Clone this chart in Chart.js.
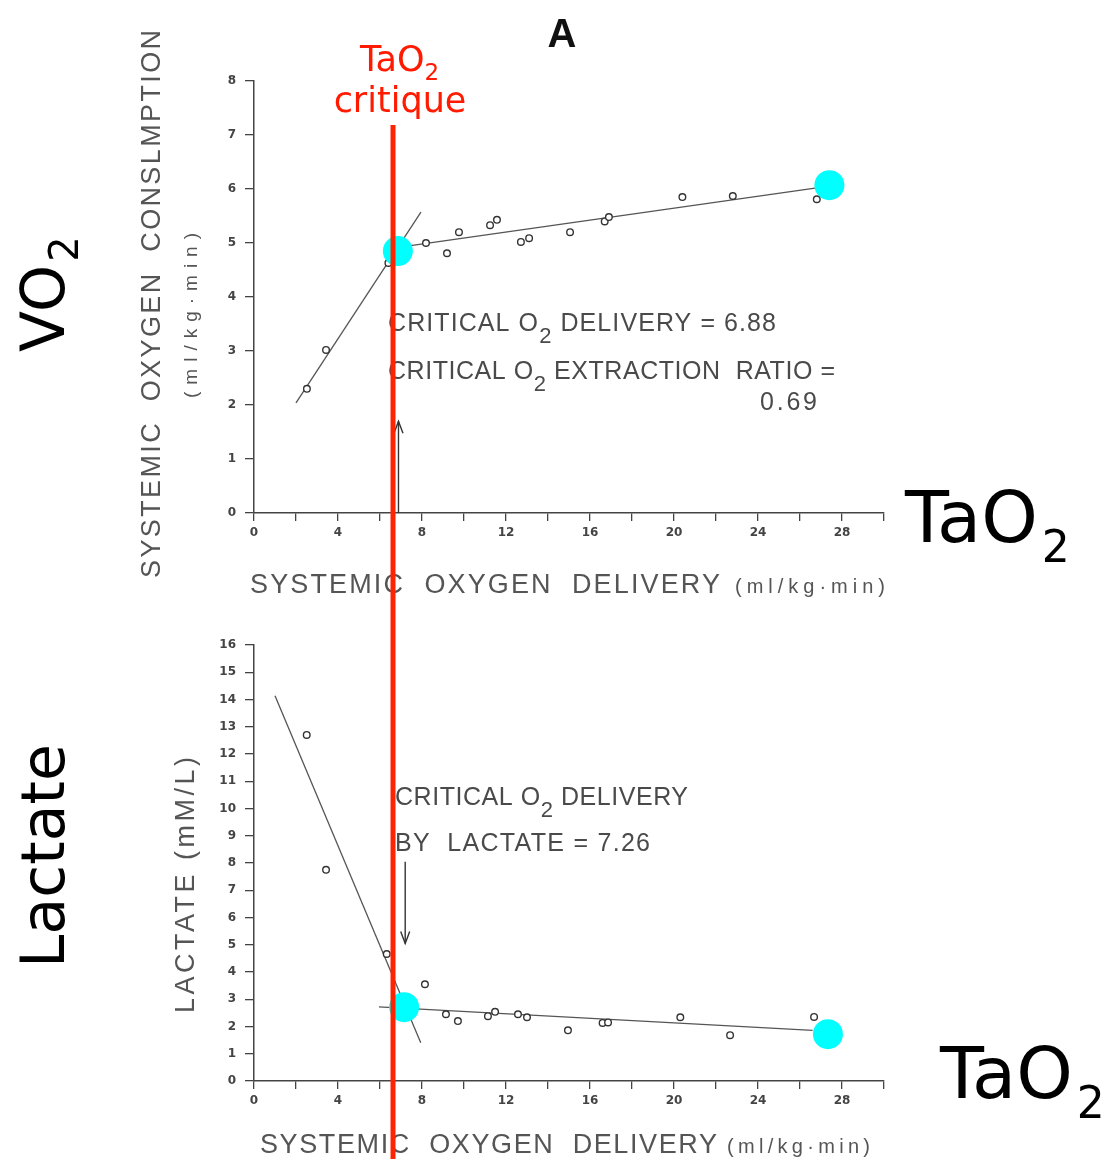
<!DOCTYPE html>
<html><head><meta charset="utf-8">
<script src="https://cdn.jsdelivr.net/npm/chart.js@4.4.1/dist/chart.umd.min.js"></script>
<style>
html,body{margin:0;padding:0;background:#fff;width:1114px;height:1159px;overflow:hidden}
#c1{position:absolute;left:0;top:0}
#c2{position:absolute;left:0;top:600px}
</style></head><body>
<canvas id="c1" width="1114" height="600"></canvas>
<canvas id="c2" width="1114" height="559"></canvas>
<script>
// ---------------- data ----------------
const deliveryTickLabels = [0, 4, 8, 12, 16, 20, 24, 28];
const vo2TickLabels = [0, 1, 2, 3, 4, 5, 6, 7, 8];
const lactateTickLabels = [0, 1, 2, 3, 4, 5, 6, 7, 8, 9, 10, 11, 12, 13, 14, 15, 16];

const vo2DeliveryX = [2.52, 3.43, 6.4, 8.19, 9.19, 9.76, 11.24, 11.57, 12.71, 13.1, 15.05, 16.7, 16.9, 20.4, 22.8, 26.8];
const vo2Values    = [2.30, 3.02, 4.63, 5.0, 4.81, 5.2, 5.33, 5.43, 5.02, 5.09, 5.2, 5.4, 5.48, 5.85, 5.87, 5.81];
const vo2SteepFitX = [2.0, 7.95];
const vo2SteepFitY = [2.04, 5.57];
const vo2FlatFitX  = [6.2, 26.8];
const vo2FlatFitY  = [4.88, 6.02];
const vo2HighlightX = [6.85, 27.4];
const vo2HighlightY = [4.85, 6.07];
const vo2ArrowX = [6.88, 6.88];
const vo2ArrowY = [0, 1.7];

const lactDeliveryX = [2.51, 3.43, 6.32, 8.14, 9.14, 9.71, 11.14, 11.48, 12.57, 13.0, 14.95, 16.6, 16.86, 20.3, 22.67, 26.67];
const lactValues    = [12.7, 7.75, 4.66, 3.55, 2.45, 2.2, 2.38, 2.54, 2.45, 2.34, 1.86, 2.13, 2.15, 2.34, 1.68, 2.35];
const lactSteepFitX = [1.0, 7.94];
const lactSteepFitY = [14.14, 1.4];
const lactFlatFitX  = [5.95, 26.6];
const lactFlatFitY  = [2.72, 1.86];
const lactHighlightX = [7.15, 27.33];
const lactHighlightY = [2.71, 1.72];
const lactArrowX = [7.2, 7.2];
const lactArrowY = [8.05, 5.05];

const criticalDeliveryX = 6.62;

// ---------------- helpers ----------------
function pts(xs, ys) { return xs.map((x, i) => ({ x: x, y: ys[i] })); }

const GRAY = '#4a4a4a';
const INK = '#444';

function spacedText(ctx, segs, x, y, targetW, color, rotate) {
  ctx.save();
  if (rotate) { ctx.translate(x, y); ctx.rotate(-Math.PI / 2); x = 0; y = 0; }
  const hasLS = ('letterSpacing' in ctx);
  let natural = 0, n = 0;
  segs.forEach(s => {
    ctx.font = s.font;
    if (hasLS) ctx.letterSpacing = '0px';
    s.w = ctx.measureText(s.t).width;
    natural += s.w + (s.dx || 0); n += s.t.length;
  });
  let sp = targetW ? (targetW - natural) / Math.max(1, n - 1) : 0;
  if (!hasLS && targetW) { const sx = targetW / natural; ctx.translate(x, 0); ctx.scale(sx, 1); x = 0; sp = 0; }
  ctx.fillStyle = color;
  ctx.textBaseline = 'alphabetic';
  ctx.textAlign = 'left';
  let cx = x;
  segs.forEach(s => {
    ctx.font = s.font;
    if (hasLS) ctx.letterSpacing = sp + 'px';
    cx += (s.dx || 0);
    ctx.fillText(s.t, cx, y + (s.dy || 0));
    cx += s.w + sp * s.t.length;
  });
  ctx.restore();
}

function drawArrowHead(ctx, px, py, dir) {
  ctx.save();
  ctx.strokeStyle = '#333';
  ctx.lineWidth = 1.4;
  ctx.beginPath();
  ctx.moveTo(px - 4.5, py - dir * 12);
  ctx.lineTo(px, py);
  ctx.lineTo(px + 4.5, py - dir * 12);
  ctx.stroke();
  ctx.restore();
}

function redLine(chart, y0, y1) {
  const ctx = chart.ctx;
  const px = chart.scales.x.getPixelForValue(criticalDeliveryX);
  ctx.save();
  ctx.strokeStyle = '#ff2400';
  ctx.lineWidth = 5;
  ctx.beginPath();
  ctx.moveTo(px, y0);
  ctx.lineTo(px, y1);
  ctx.stroke();
  ctx.restore();
}

function xScale(height) {
  return {
    type: 'linear', min: 0, max: 30,
    afterFit: s => { s.height = height; },
    afterBuildTicks: s => { s.ticks = []; for (let v = 0; v <= 30; v += 2) s.ticks.push({ value: v }); },
    ticks: {
      stepSize: 2, padding: 5, color: INK, maxRotation: 0, autoSkip: false,
      font: { family: 'DejaVu Sans', size: 12, weight: 'bold' },
      callback: v => (deliveryTickLabels.includes(v) ? String(v) : '')
    },
    grid: { drawOnChartArea: false, drawTicks: true, tickLength: 8, color: INK, lineWidth: 1.3 },
    border: { display: true, color: INK, width: 1.5 }
  };
}
function yScale(labels) {
  return {
    type: 'linear', min: labels[0], max: labels[labels.length - 1],
    afterFit: s => { s.width = 254; },
    afterBuildTicks: s => { s.ticks = labels.map(v => ({ value: v })); },
    ticks: {
      padding: 9, color: INK, autoSkip: false,
      font: { family: 'DejaVu Sans', size: 12, weight: 'bold' },
      callback: v => String(v)
    },
    grid: { drawOnChartArea: false, drawTicks: true, tickLength: 9, color: INK, lineWidth: 1.3 },
    border: { display: true, color: INK, width: 1.5 }
  };
}

function datasets(px, py, s1x, s1y, s2x, s2y, hx, hy, ax, ay) {
  return [
    { data: pts(hx, hy), pointRadius: 15, pointHoverRadius: 15, pointBackgroundColor: '#00ffff', pointBorderWidth: 0, order: 0, clip: false },
    { data: pts(px, py), pointRadius: 3.3, pointBackgroundColor: '#fff', pointBorderColor: '#333', pointBorderWidth: 1.4, order: 1 },
    { data: pts(s1x, s1y), showLine: true, pointRadius: 0, borderColor: '#555', borderWidth: 1.3, order: 2 },
    { data: pts(s2x, s2y), showLine: true, pointRadius: 0, borderColor: '#555', borderWidth: 1.3, order: 2 },
    { data: pts(ax, ay), showLine: true, pointRadius: 0, borderColor: '#333', borderWidth: 1.4, order: 2 }
  ];
}

const commonOpts = (padTop) => ({
  responsive: false, animation: false, devicePixelRatio: 1,
  layout: { padding: { top: padTop, right: 230, left: 0, bottom: 0 } },
  plugins: { legend: { display: false }, tooltip: { enabled: false } },
  events: []
});

const FT = '"Liberation Sans", Arial, sans-serif';
const BIG = '"DejaVu Sans", sans-serif';

// ---------------- top chart ----------------
const topOverlay = {
  id: 'topOverlay',
  afterDraw(chart) {
    const ctx = chart.ctx;
    const xs = chart.scales.x, ys = chart.scales.y;
    drawArrowHead(ctx, xs.getPixelForValue(vo2ArrowX[1]), ys.getPixelForValue(vo2ArrowY[1]), -1);
    spacedText(ctx, [{ t: 'CRITICAL O', font: '25px ' + FT }, { t: '2', font: '22px ' + FT, dy: 12 }, { t: ' DELIVERY = 6.88', font: '25px ' + FT }], 388, 331, 388, GRAY);
    spacedText(ctx, [{ t: 'CRITICAL O', font: '25px ' + FT }, { t: '2', font: '22px ' + FT, dy: 12 }, { t: ' EXTRACTION  RATIO =', font: '25px ' + FT }], 388, 379, 447, GRAY);
    spacedText(ctx, [{ t: '0.69', font: '25px ' + FT }], 760, 410, 57, GRAY);
    spacedText(ctx, [{ t: 'SYSTEMIC  OXYGEN  CONSLMPTION', font: '27px ' + FT }], 160, 578, 548, '#555', true);
    spacedText(ctx, [{ t: '(ml/kg·min)', font: '19px ' + FT }], 197, 398, 165, '#555', true);
    spacedText(ctx, [{ t: 'SYSTEMIC  OXYGEN  DELIVERY', font: '27px ' + FT }], 250, 593, 470, '#555');
    spacedText(ctx, [{ t: '(ml/kg·min)', font: '20px ' + FT }], 735, 593, 150, '#555');
    ctx.save();
    ctx.fillStyle = '#111'; ctx.font = 'bold 40px ' + FT; ctx.textAlign = 'center';
    ctx.fillText('A', 562, 47);
    ctx.restore();
    spacedText(ctx, [{ t: 'VO', font: '60px ' + BIG }, { t: '2', font: '40px ' + BIG, dy: 14, dx: 3 }], 64, 352, null, '#000', true);
    spacedText(ctx, [{ t: 'TaO', font: '72px ' + BIG }, { t: '2', font: '44px ' + BIG, dy: 20, dx: 4 }], 905, 542, null, '#000');
    spacedText(ctx, [{ t: 'TaO', font: '35px ' + BIG }, { t: '2', font: '23px ' + BIG, dy: 9 }], 360, 71, null, '#ff1a00');
    ctx.save();
    ctx.fillStyle = '#ff1a00'; ctx.font = '35px ' + BIG; ctx.textAlign = 'center';
    ctx.fillText('critique', 400, 112);
    ctx.restore();
    redLine(chart, 125, 600);
  }
};

new Chart(document.getElementById('c1'), {
  type: 'scatter',
  data: { datasets: datasets(vo2DeliveryX, vo2Values, vo2SteepFitX, vo2SteepFitY, vo2FlatFitX, vo2FlatFitY, vo2HighlightX, vo2HighlightY, vo2ArrowX, vo2ArrowY) },
  options: Object.assign(commonOpts(81), { scales: { x: xScale(87), y: yScale(vo2TickLabels) } }),
  plugins: [topOverlay]
});

// ---------------- bottom chart ----------------
const botOverlay = {
  id: 'botOverlay',
  afterDraw(chart) {
    const ctx = chart.ctx;
    const xs = chart.scales.x, ys = chart.scales.y;
    drawArrowHead(ctx, xs.getPixelForValue(lactArrowX[1]), ys.getPixelForValue(lactArrowY[1]), 1);
    const off = 600;
    spacedText(ctx, [{ t: 'CRITICAL O', font: '25px ' + FT }, { t: '2', font: '22px ' + FT, dy: 12 }, { t: ' DELIVERY', font: '25px ' + FT }], 395, 805 - off, 293, GRAY);
    spacedText(ctx, [{ t: 'BY  LACTATE = 7.26', font: '25px ' + FT }], 395, 851 - off, 255, GRAY);
    spacedText(ctx, [{ t: 'LACTATE (mM/L)', font: '27px ' + FT }], 194, 1013 - off, 256, '#555', true);
    spacedText(ctx, [{ t: 'SYSTEMIC  OXYGEN  DELIVERY', font: '27px ' + FT }], 260, 1153 - off, 457, '#555');
    spacedText(ctx, [{ t: '(ml/kg·min)', font: '20px ' + FT }], 727, 1153 - off, 143, '#555');
    spacedText(ctx, [{ t: 'Lactate', font: '60px ' + BIG }], 64, 968 - off, 224, '#000', true);
    spacedText(ctx, [{ t: 'TaO', font: '72px ' + BIG }, { t: '2', font: '44px ' + BIG, dy: 20, dx: 4 }], 940, 1098 - off, null, '#000');
    redLine(chart, 0, 559);
  }
};

new Chart(document.getElementById('c2'), {
  type: 'scatter',
  data: { datasets: datasets(lactDeliveryX, lactValues, lactSteepFitX, lactSteepFitY, lactFlatFitX, lactFlatFitY, lactHighlightX, lactHighlightY, lactArrowX, lactArrowY) },
  options: Object.assign(commonOpts(45), { scales: { x: xScale(78), y: yScale(lactateTickLabels) } }),
  plugins: [botOverlay]
});
</script>
</body></html>
